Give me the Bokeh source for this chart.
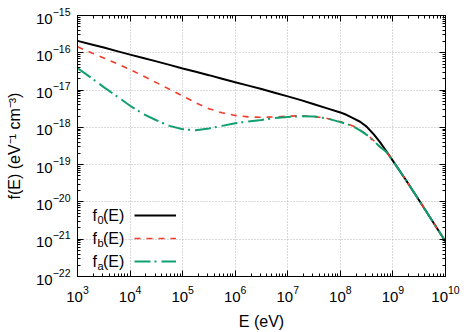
import numpy as np
from bokeh.plotting import figure
from bokeh.models import (LogAxis, FixedTicker, Legend, LegendItem, Label,
                          Range1d, CustomJSTickFormatter)
from bokeh.core.properties import value
from bokeh.embed import file_html
from bokeh.resources import INLINE

# ---- data (log10 values) ----
log_E = [3.0, 3.25, 3.5, 3.75, 4.0, 4.25, 4.5, 4.75, 5.0, 5.25, 5.5, 5.75,
         6.0, 6.25, 6.5, 6.75, 7.0, 7.25, 7.5, 7.75,
         8.0, 8.125, 8.25, 8.375, 8.5, 8.625, 8.75, 8.875, 9.0,
         9.25, 9.5, 9.75, 10.0]
log_f0 = [-15.68, -15.77, -15.86, -15.955, -16.05, -16.14, -16.23, -16.325,
          -16.42, -16.51, -16.60, -16.695, -16.79, -16.88, -16.97, -17.07,
          -17.17, -17.27, -17.38, -17.49,
          -17.60, -17.67, -17.76, -17.85, -17.98, -18.17, -18.39, -18.64, -18.90,
          -19.42, -19.96, -20.51, -21.06]
log_fb = [-15.84, -15.99, -16.14, -16.29, -16.45, -16.62, -16.80, -16.98,
          -17.16, -17.34, -17.50, -17.61, -17.68, -17.72, -17.73, -17.72,
          -17.70, -17.69, -17.71, -17.76,
          -17.85, -17.90, -17.97, -18.07, -18.19, -18.34, -18.51, -18.65, -18.90,
          -19.42, -19.96, -20.51, -21.06]
log_fa = [-16.41, -16.66, -16.92, -17.17, -17.42, -17.64, -17.81, -17.96,
          -18.05, -18.08, -18.03, -17.96, -17.89, -17.84, -17.80, -17.75,
          -17.72, -17.70, -17.71, -17.76,
          -17.86, -17.91, -17.98, -18.08, -18.20, -18.35, -18.52, -18.66, -18.90,
          -19.42, -19.96, -20.51, -21.06]

x_decades = list(range(3, 11))
y_decades = list(range(-22, -14))
x_label = "E (eV)"
y_label = "f(E) (eV\u207b\u00b9 cm\u207b\u00b3)"
legend_subs = ["0", "b", "a"]

FONT = "Liberation Sans"

E = [10 ** v for v in log_E]
f0 = [10 ** v for v in log_f0]
fb = [10 ** v for v in log_fb]
fa = [10 ** v for v in log_fa]

W, H = 473, 332
p = figure(width=W, height=H, x_axis_type="log", y_axis_type="log",
           x_range=Range1d(10.0 ** x_decades[0], 10.0 ** x_decades[-1]),
           y_range=Range1d(10.0 ** y_decades[0], 10.0 ** y_decades[-1]),
           output_backend="svg", toolbar_location=None,
           min_border_left=77, min_border_right=28,
           min_border_top=15, min_border_bottom=52)
p.outline_line_color = "black"
p.outline_line_width = 1
p.background_fill_color = "white"
p.border_fill_color = "white"

xmaj = [10.0 ** d for d in x_decades]
xmin = [k * 10.0 ** d for d in x_decades[:-1] for k in range(2, 10)]
ymaj = [10.0 ** d for d in y_decades]
ymin = [k * 10.0 ** d for d in y_decades[:-1] for k in range(2, 10)]


def style_axis(ax, labels=True):
    ax.axis_line_color = "black"
    ax.axis_line_width = 1
    ax.major_tick_in = 6
    ax.major_tick_out = 0
    ax.minor_tick_in = 3
    ax.minor_tick_out = 0
    ax.major_tick_line_color = "black"
    ax.minor_tick_line_color = "black"
    ax.major_label_text_font = FONT
    ax.major_label_text_font_size = "15px"
    ax.major_label_text_color = "black"
    ax.axis_label_text_font = FONT
    ax.axis_label_text_font_size = "16px"
    ax.axis_label_text_font_style = "normal"
    ax.axis_label_text_color = "black"
    if not labels:
        ax.formatter = CustomJSTickFormatter(code="return ''")
        ax.major_label_standoff = 0


p.xaxis.ticker = FixedTicker(ticks=xmaj, minor_ticks=xmin)
p.yaxis.ticker = FixedTicker(ticks=ymaj, minor_ticks=ymin)
style_axis(p.xaxis[0])
style_axis(p.yaxis[0])
p.xaxis.axis_label = x_label
p.yaxis.axis_label = y_label
p.xaxis.major_label_standoff = 9
p.yaxis.major_label_standoff = 7
p.xaxis.axis_label_standoff = 8
p.yaxis.axis_label_standoff = 10

top = LogAxis(ticker=FixedTicker(ticks=xmaj, minor_ticks=xmin))
right = LogAxis(ticker=FixedTicker(ticks=ymaj, minor_ticks=ymin))
style_axis(top, labels=False)
style_axis(right, labels=False)
p.add_layout(top, "above")
p.add_layout(right, "right")

for g in (p.xgrid[0], p.ygrid[0]):
    g.grid_line_color = "#b4b4b4"
    g.grid_line_dash = "1 2"
    g.grid_line_width = 1

r0 = p.line(E, f0, line_color="black", line_width=2)
rb = p.line(E, fb, line_color="#f03c28", line_width=1.6, line_dash="6 6")
ra = p.line(E, fa, line_color="#10a070", line_width=2, line_dash="16 4 2 5")

legend = Legend(items=[LegendItem(label=value(" "), renderers=[r]) for r in (r0, rb, ra)],
                location=(57, 5), glyph_width=42, glyph_height=20,
                label_height=20, label_width=0, label_standoff=0, spacing=3,
                padding=0, margin=0, border_line_alpha=0,
                background_fill_alpha=0, label_text_font_size="8px")
p.add_layout(legend)

# legend texts (with real subscripts), positioned relative to the frame
FL, FR, FT, FB = 77, 445, 15, 280


def xdata(px):
    return 10 ** (x_decades[0] + (x_decades[-1] - x_decades[0]) * (px - FL) / (FR - FL))


def ydata(py):
    return 10 ** (y_decades[-1] - (y_decades[-1] - y_decades[0]) * (py - FT) / (FB - FT))


for yc, sub in zip([217.7, 241.0, 264.5], legend_subs):
    p.add_layout(Label(x=xdata(92.0), y=ydata(yc), text="f", text_baseline="middle",
                       text_font=FONT, text_font_size="16px", text_color="black"))
    p.add_layout(Label(x=xdata(97.0), y=ydata(yc + 5), text=sub, text_baseline="middle",
                       text_font=FONT, text_font_size="11px", text_color="black"))
    p.add_layout(Label(x=xdata(102.5), y=ydata(yc), text="(E)", text_baseline="middle",
                       text_font=FONT, text_font_size="16px", text_color="black"))

open("out.html", "w").write(file_html(p, INLINE))
